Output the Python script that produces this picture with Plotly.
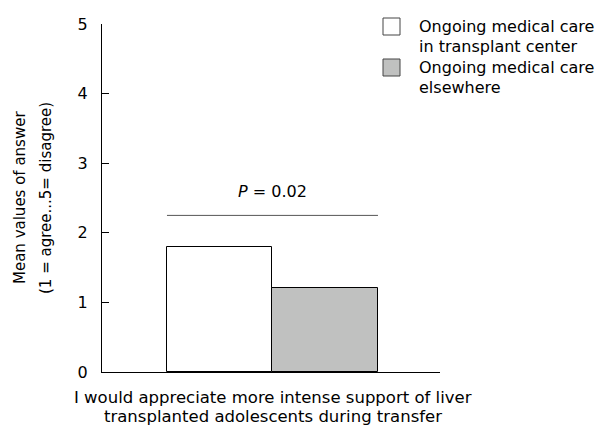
import plotly.graph_objects as go

# Data
groups = ["Ongoing medical care in transplant center", "Ongoing medical care elsewhere"]
legend_lines = [["Ongoing medical care", "in transplant center"], ["Ongoing medical care", "elsewhere"]]
values = [1.8, 1.2]
fills = ["#ffffff", "#c0c1c0"]
y_ticks = [0, 1, 2, 3, 4, 5]
p_text = "<i>P</i> = 0.02"
x_title = ["I would appreciate more intense support of liver", "transplanted adolescents during transfer"]
y_title = ["Mean values of answer", "(1 = agree...5= disagree)"]

FONT = "DejaVu Sans"
W, H = 600, 429
L, R, T, B = 102, 160, 24, 57

fig = go.Figure()
for i, (g, v, c) in enumerate(zip(groups, values, fills)):
    fig.add_trace(go.Bar(
        x=[i], y=[v], width=1, name=g,
        marker=dict(color=c, line=dict(color="#000000", width=1)),
        showlegend=False, hoverinfo="skip",
    ))

# significance line and label
fig.add_shape(type="line", xref="x", yref="y", x0=-0.5, x1=1.5, y0=2.25, y1=2.25,
              line=dict(color="#555555", width=1))
fig.add_annotation(xref="x", yref="y", x=0.5, y=2.6, text=p_text, showarrow=False,
                   font=dict(family=FONT, size=16, color="#000000"))

# legend (manual)
pw = W - L - R
ph = H - T - B
def px_x(p):
    return (p - L) / pw
def px_y(p):
    return 1 - (p - T) / ph

box_tops = [18, 59]
for k, (lines, c) in enumerate(zip(legend_lines, fills)):
    top = box_tops[k]
    fig.add_shape(type="rect", xref="paper", yref="paper",
                  x0=px_x(383), x1=px_x(400), y0=px_y(top), y1=px_y(top + 17),
                  line=dict(color="#444444", width=1), fillcolor=c)
    for j, ln in enumerate(lines):
        fig.add_annotation(xref="paper", yref="paper", x=px_x(417), y=px_y(top + 8 + j * 20.5),
                           xanchor="left", yanchor="middle", text=ln, showarrow=False,
                           font=dict(family=FONT, size=16, color="#000000"))

# y title
for j, ln in enumerate(y_title):
    fig.add_annotation(xref="paper", yref="paper", x=px_x(20 + j * 26), y=0.5,
                       xanchor="center", yanchor="middle", textangle=-90, text=ln,
                       showarrow=False, font=dict(family=FONT, size=15, color="#000000"))

# x title
for j, ln in enumerate(x_title):
    fig.add_annotation(xref="paper", yref="paper", x=px_x(273), y=px_y(397 + j * 19),
                       xanchor="center", yanchor="middle", text=ln,
                       showarrow=False, font=dict(family=FONT, size=16.5, color="#000000"))

fig.update_layout(
    width=W, height=H,
    margin=dict(l=L, r=R, t=T, b=B, pad=0),
    paper_bgcolor="white", plot_bgcolor="white",
    bargap=0,
    xaxis=dict(range=[-1.116, 2.088], showline=True, linecolor="#000000", linewidth=1,
               showticklabels=False, ticks="", showgrid=False, zeroline=False, fixedrange=True),
    yaxis=dict(range=[0, 5], tickvals=y_ticks, showline=True, linecolor="#000000", linewidth=1,
               ticks="inside", ticklen=7, tickcolor="#000000", showgrid=False, zeroline=False,
               tickfont=dict(family=FONT, size=16, color="#000000"), ticklabelstandoff=10),
    font=dict(family=FONT, color="#000000"),
)

fig.write_html("out.html")
